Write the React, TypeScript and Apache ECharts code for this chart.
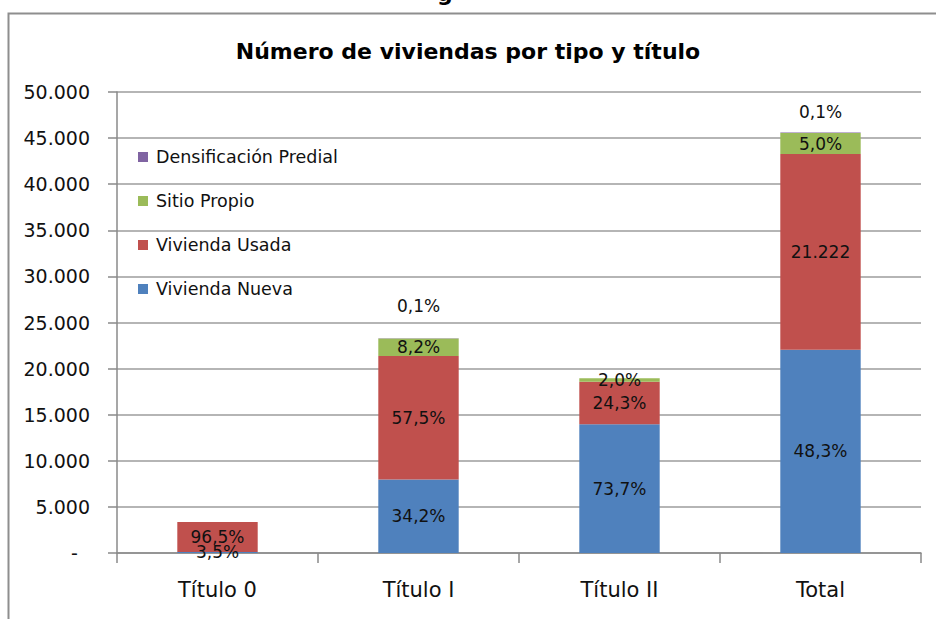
import React, { useEffect, useRef } from "react";
import * as echarts from "echarts";

const categories = ["Título 0", "Título I", "Título II", "Total"];
const seriesNames = ["Vivienda Nueva", "Vivienda Usada", "Sitio Propio", "Densificación Predial"];

const viviendaNueva = [118, 7969, 13966, 22040];
const viviendaUsada = [3240, 13398, 4605, 21222];
const sitioPropio = [0, 1911, 379, 2290];
const densificacion = [0, 23, 0, 46];

const labelNueva = ["3,5%", "34,2%", "73,7%", "48,3%"];
const labelUsada = ["96,5%", "57,5%", "24,3%", "21.222"];
const labelSitio = ["", "8,2%", "2,0%", "5,0%"];
const labelDensif = ["", "0,1%", "", "0,1%"];
const densifLabelDistance = [0, 24, 0, 12];

const colors = ["#4F81BD", "#C0504D", "#9BBB59", "#8064A2"];

const FONT = "DejaVu Sans";

export default function App() {
  const ref = useRef<HTMLDivElement>(null);

  useEffect(() => {
    if (!ref.current) return;
    const chart = echarts.init(ref.current, null, { renderer: "svg" });

    const mkSeries = (name: string, values: number[], labels: string[], color: string, top?: boolean) => ({
      name,
      type: "bar",
      stack: "total",
      barWidth: "40%",
      itemStyle: { color },
      label: {
        show: true,
        position: top ? "top" : "inside",
        color: "#111",
        fontFamily: FONT,
        fontSize: 17,
        formatter: (p: any) => labels[p.dataIndex] || "",
      },
      data: values.map((v, i) =>
        top
          ? { value: v, label: { show: labels[i] !== "", distance: densifLabelDistance[i] } }
          : { value: v, label: { show: labels[i] !== "" } }
      ),
    });

    chart.setOption({
      animation: false,
      color: colors,
      title: {
        text: "Número de viviendas por tipo y título",
        left: "center",
        top: 35,
        textStyle: { fontFamily: FONT, fontSize: 22, fontWeight: "bold", color: "#000" },
      },
      graphic: [
        {
          type: "rect",
          left: 6,
          top: 11,
          shape: { width: 980, height: 660 },
          style: { fill: "none", stroke: "#8e8e8e", lineWidth: 2 },
        },
        {
          type: "text",
          left: 437,
          top: -18,
          style: { text: "g", fontFamily: FONT, fontSize: 22, fontWeight: "bold", fill: "#000" },
        },
      ],
      legend: {
        orient: "vertical",
        left: 133,
        top: 143,
        itemGap: 26,
        itemWidth: 10,
        itemHeight: 10,
        icon: "rect",
        data: [...seriesNames].reverse(),
        textStyle: { fontFamily: FONT, fontSize: 17.5, color: "#111", padding: [0, 0, 0, 3] },
      },
      grid: { left: 117, right: 15, top: 92, bottom: 66, containLabel: false },
      xAxis: {
        type: "category",
        data: categories,
        axisLine: { lineStyle: { color: "#8a8a8a", width: 1.5 } },
        axisTick: { show: true, length: 10, alignWithLabel: false, lineStyle: { color: "#8a8a8a", width: 1.5 } },
        axisLabel: { fontFamily: FONT, fontSize: 21, color: "#111", margin: 26 },
      },
      yAxis: {
        type: "value",
        min: 0,
        max: 50000,
        interval: 5000,
        axisLine: { show: true, lineStyle: { color: "#8a8a8a", width: 1.5 } },
        axisTick: { show: true, length: 9, lineStyle: { color: "#8a8a8a", width: 1.5 } },
        splitLine: { lineStyle: { color: "#9c9c9c", width: 1.5 } },
        axisLabel: {
          fontFamily: FONT,
          fontSize: 19,
          color: "#111",
          margin: 27,
          formatter: (v: number) =>
            v === 0 ? "-  " : v.toString().replace(/\B(?=(\d{3})+(?!\d))/g, "."),
        },
      },
      series: [
        mkSeries(seriesNames[0], viviendaNueva, labelNueva, colors[0]),
        mkSeries(seriesNames[1], viviendaUsada, labelUsada, colors[1]),
        mkSeries(seriesNames[2], sitioPropio, labelSitio, colors[2]),
        mkSeries(seriesNames[3], densificacion, labelDensif, colors[3], true),
      ],
    });

    return () => chart.dispose();
  }, []);

  return (
    <div
      ref={ref}
      style={{ position: "fixed", left: 0, top: 0, width: 936, height: 619, background: "#fff" }}
    />
  );
}
